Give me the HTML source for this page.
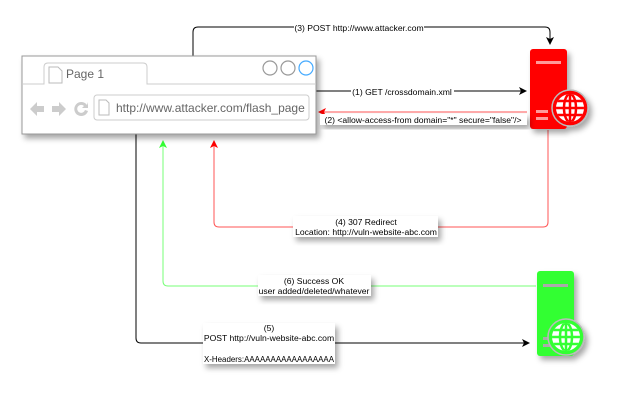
<!DOCTYPE html>
<html><head><style>
html,body{margin:0;padding:0;background:#fff;}
svg{display:block;font-family:"Liberation Sans",Arial,sans-serif;}
</style></head><body>
<svg width="638" height="408" viewBox="0 0 638 408" xmlns="http://www.w3.org/2000/svg">
<defs>
<filter id="sh" x="-20%" y="-20%" width="150%" height="160%"><feDropShadow dx="3" dy="4" stdDeviation="3" flood-color="#000" flood-opacity="0.35"/></filter>
<marker id="ab" markerWidth="8" markerHeight="8" refX="7" refY="4" orient="auto" markerUnits="userSpaceOnUse"><path d="M0,0 L8,4 L0,8 L2,4 z" fill="#000"/></marker>
<marker id="ar" markerWidth="8" markerHeight="8" refX="7" refY="4" orient="auto" markerUnits="userSpaceOnUse"><path d="M0,0 L8,4 L0,8 L2,4 z" fill="#f00"/></marker>
<marker id="ag" markerWidth="8" markerHeight="8" refX="7" refY="4" orient="auto" markerUnits="userSpaceOnUse"><path d="M0,0 L8,4 L0,8 L2,4 z" fill="#3f3"/></marker>
<clipPath id="c1"><circle cx="570" cy="108" r="14"/></clipPath>
<clipPath id="c2"><circle cx="566" cy="337" r="14"/></clipPath>
</defs>

<path d="M193,56 V32 Q193,27 198,27 H545 Q550,27 550,32 V44" fill="none" stroke="#000" stroke-width="1" marker-end="url(#ab)"/>
<path d="M316,91 H526" fill="none" stroke="#000" stroke-width="1" marker-end="url(#ab)"/>
<path d="M527,112 H319" fill="none" stroke="#f55" stroke-width="1" marker-end="url(#ar)"/>
<path d="M548,130 V222 Q548,227 543,227 H219 Q214,227 214,222 V141" fill="none" stroke="#f55" stroke-width="1" marker-end="url(#ar)"/>
<path d="M536,286 H168 Q163,286 163,281 V141" fill="none" stroke="#7f7" stroke-width="1" marker-end="url(#ag)"/>
<path d="M136,134 V338 Q136,343 141,343 H529" fill="none" stroke="#000" stroke-width="1" marker-end="url(#ab)"/>

<g filter="url(#sh)">
<rect x="22" y="56" width="294" height="78" fill="#fff" stroke="#999" stroke-width="1"/>
</g>
<path d="M22,84 H44 V67 Q44,63 48,63 H143 Q147,63 147,67 V84 H316" fill="none" stroke="#ccc" stroke-width="1"/>
<path d="M49,67 h9 l4,4 v12 h-13 z" fill="#fff" stroke="#bbb"/>
<text x="66" y="78" font-size="12" fill="#666">Page 1</text>
<circle cx="270" cy="68" r="7" fill="#fff" stroke="#999" stroke-width="1.2"/>
<circle cx="288" cy="68" r="7" fill="#fff" stroke="#999" stroke-width="1.2"/>
<circle cx="306" cy="68" r="7" fill="#fff" stroke="#4af" stroke-width="1.2"/>
<rect x="94" y="95" width="215" height="25" rx="3" fill="#fff" stroke="#ccc"/>
<path d="M99,100 h7 l3,3 v12 h-10 z" fill="#fff" stroke="#bbb"/>
<text x="116" y="112" font-size="12" fill="#666">http://www.attacker.com/flash_page</text>
<path d="M30,109 l7,-7 v4 h7 v6 h-7 v4 z" fill="#ccc"/>
<path d="M66,109 l-7,-7 v4 h-7 v6 h7 v4 z" fill="#ccc"/>
<path d="M87,105 a7,7 0 1 0 1,6 l-3,-1 a4,4 0 1 1 -1,-4 l-2,2 h6 v-6 z" fill="#ccc"/>

<!-- red server -->
<g filter="url(#sh)">
<rect x="530" y="49" width="37" height="80" rx="3" fill="#f00"/>
<rect x="536" y="61" width="25" height="3" fill="#f99"/>
<rect x="536" y="110" width="12" height="3" fill="#f99"/>
<rect x="536" y="117" width="12" height="3" fill="#f99"/>
<circle cx="570" cy="108" r="18" fill="#f00" stroke="#bbb" stroke-width="1.5"/>
</g>
<circle cx="570" cy="108" r="14" fill="#fff"/>
<g fill="none" stroke="#f00" stroke-width="2.5" clip-path="url(#c1)">
<ellipse cx="570" cy="108" rx="6" ry="14"/>
<line x1="556" y1="108" x2="584" y2="108"/><line x1="570" y1="94" x2="570" y2="122"/>
<line x1="556" y1="101" x2="584" y2="101"/><line x1="556" y1="115" x2="584" y2="115"/>
</g>

<!-- green server -->
<g filter="url(#sh)">
<rect x="537" y="271" width="37" height="85" rx="3" fill="#3f3"/>
<rect x="543" y="284" width="25" height="3" fill="#aaa"/>
<rect x="543" y="337" width="12" height="3" fill="#aaa"/>
<rect x="543" y="344" width="12" height="3" fill="#aaa"/>
<circle cx="566" cy="337" r="18" fill="#3f3" stroke="#bbb" stroke-width="1.5"/>
</g>
<circle cx="566" cy="337" r="14" fill="#fff"/>
<g fill="none" stroke="#3f3" stroke-width="2.5" clip-path="url(#c2)">
<ellipse cx="566" cy="337" rx="6" ry="14"/>
<line x1="552" y1="337" x2="580" y2="337"/><line x1="566" y1="323" x2="566" y2="351"/>
<line x1="552" y1="330" x2="580" y2="330"/><line x1="552" y1="344" x2="580" y2="344"/>
</g>

<g font-size="8.6" fill="#000">
<rect x="294" y="22" width="130" height="11" fill="#fff"/>
<text x="359" y="31" text-anchor="middle">(3) POST http://www.attacker.com</text>
<rect x="351" y="86" width="103" height="11" fill="#fff"/>
<text x="402" y="95" text-anchor="middle">(1) GET /crossdomain.xml</text>
<g filter="url(#sh)"><rect x="320" y="114" width="207" height="11" fill="#fff"/></g>
<text x="423" y="123" text-anchor="middle">(2) &lt;allow-access-from domain="*" secure="false"/&gt;</text>
<g filter="url(#sh)"><rect x="293" y="216" width="145" height="21" fill="#fff"/></g>
<text x="366" y="225" text-anchor="middle">(4) 307 Redirect</text>
<text x="366" y="235" text-anchor="middle">Location: http://vuln-website-abc.com</text>
<g filter="url(#sh)"><rect x="258" y="275" width="113" height="21" fill="#fff"/></g>
<text x="314" y="284" text-anchor="middle">(6) Success OK</text>
<text x="314" y="294" text-anchor="middle">user added/deleted/whatever</text>
<g filter="url(#sh)"><rect x="203" y="323" width="132" height="41" fill="#fff"/></g>
<text x="269" y="331" text-anchor="middle">(5)</text>
<text x="269" y="341" text-anchor="middle">POST http://vuln-website-abc.com</text>
<text x="269" y="362" text-anchor="middle" textLength="130" lengthAdjust="spacingAndGlyphs">X-Headers:AAAAAAAAAAAAAAAAA</text>
</g>
</svg>
</body></html>
